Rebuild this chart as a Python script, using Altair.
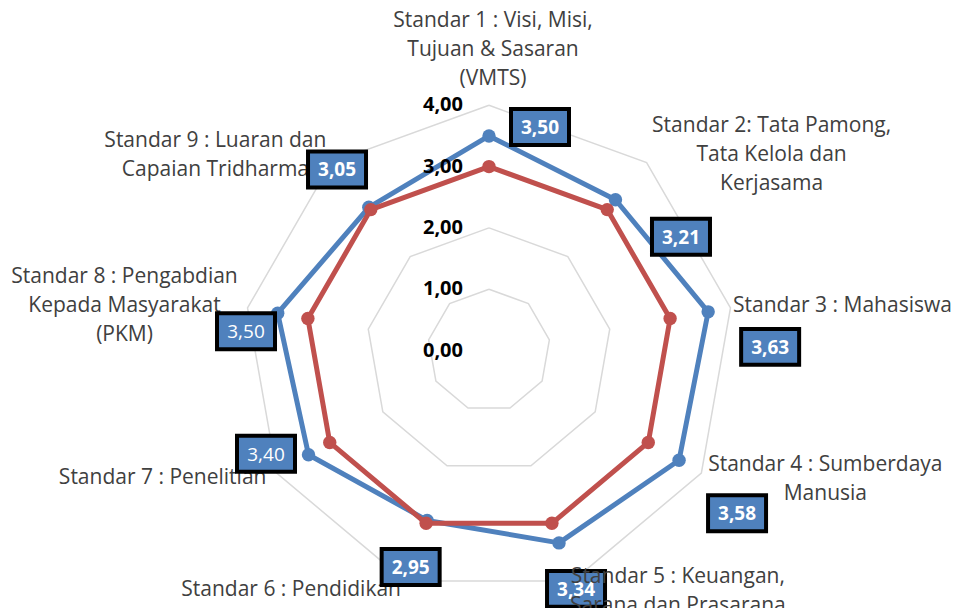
import altair as alt
import pandas as pd

# ---------------- data ----------------
CATEGORIES = [
    "Standar 1 : Visi, Misi,\nTujuan & Sasaran\n(VMTS)",
    "Standar 2: Tata Pamong,\nTata Kelola dan\nKerjasama",
    "Standar 3 : Mahasiswa",
    "Standar 4 : Sumberdaya\nManusia",
    "Standar 5 : Keuangan,\nSarana dan Prasarana",
    "Standar 6 : Pendidikan",
    "Standar 7 : Penelitian",
    "Standar 8 : Pengabdian\nKepada Masyarakat\n(PKM)",
    "Standar 9 : Luaran dan\nCapaian Tridharma",
]
SCORES = [3.50, 3.21, 3.63, 3.58, 3.34, 2.95, 3.40, 3.50, 3.05]
TARGET = [3.00, 3.00, 3.00, 3.00, 3.00, 3.00, 3.00, 3.00, 3.00]
SCORE_LABELS = ["3,50", "3,21", "3,63", "3,58", "3,34", "2,95", "3,40", "3,50", "3,05"]
TICK_VALUES = [0, 1, 2, 3, 4]
TICK_LABELS = ["0,00", "1,00", "2,00", "3,00", "4,00"]

# ---------------- layout (pixels) ----------------
W, H = 945, 600
S = 61.3            # pixels per unit of score
CX, CY = 481, 342.5  # centre of the radar in chart pixels
R_MAX = 4
LINE_H = 29
# category label (block centre) offsets from the outer vertex
CAT_DX = [4, 125, 112, 124, 105, -114, -114, -123, -116]
CAT_DY = [-55, -8, -2, 6, 11, 9, 5, -2, -7]
# value box offsets from the data point
BOX_DX = [51, 65.5, 62, 58, 17, -16.5, -42.5, -31.7, -31.8]
BOX_DY = [-9, 37, 35, 53, 46, 46.5, -1, 18, -37.8]
BOX_BOLD = [True, True, True, True, True, True, False, False, True]

BLUE = "#4F81BD"
RED = "#C0504D"
GRID = "#D9D9D9"
FONT = "Open Sans"

n = len(CATEGORIES)
xs = alt.Scale(domain=[-CX / S, (W - CX) / S], nice=False, zero=False)
ys = alt.Scale(domain=[-(H - CY) / S, CY / S], nice=False, zero=False)
ANG = "PI*(90-40*datum.k)/180"


def X(field="x"):
    return alt.X(f"{field}:Q", scale=xs, axis=None)


def Y(field="y"):
    return alt.Y(f"{field}:Q", scale=ys, axis=None)


# grid polygons
grid_rows = [{"level": lv, "k": k} for lv in TICK_VALUES[1:] for k in range(n + 1)]
grid = (
    alt.Chart(pd.DataFrame(grid_rows))
    .transform_calculate(x=f"datum.level*cos({ANG})", y=f"datum.level*sin({ANG})")
    .mark_line(color=GRID, strokeWidth=1.5)
    .encode(x=X(), y=Y(), detail="level:N", order="k:Q")
)


def series_layers(vals, color):
    line_df = pd.DataFrame({"k": list(range(n + 1)), "v": [vals[i % n] for i in range(n + 1)]})
    pt_df = pd.DataFrame({"k": list(range(n)), "v": vals})
    calc = dict(x=f"datum.v*cos({ANG})", y=f"datum.v*sin({ANG})")
    line = (
        alt.Chart(line_df)
        .transform_calculate(**calc)
        .mark_line(color=color, strokeWidth=5, strokeJoin="round")
        .encode(x=X(), y=Y(), order="k:Q")
    )
    pts = (
        alt.Chart(pt_df)
        .transform_calculate(**calc)
        .mark_point(shape="circle", filled=True, color=color, opacity=1, size=180)
        .encode(x=X(), y=Y())
    )
    return line, pts


b_line, b_pts = series_layers(SCORES, BLUE)
r_line, r_pts = series_layers(TARGET, RED)

# tick labels
tick_df = pd.DataFrame({"v": TICK_VALUES, "t": TICK_LABELS})
ticks = (
    alt.Chart(tick_df)
    .transform_calculate(x=f"{-26 / S}", y="datum.v")
    .mark_text(align="right", baseline="middle", font=FONT, fontSize=20,
               fontWeight="bold", color="black")
    .encode(x=X(), y=Y(), text="t:N")
)

# category labels (first line anchored so that the block is centred)
cat_df = pd.DataFrame({
    "k": list(range(n)), "label": CATEGORIES, "dx": CAT_DX, "dy": CAT_DY,
    "nl": [c.count("\n") + 1 for c in CATEGORIES],
})
cat_base = alt.Chart(cat_df).transform_calculate(
    x=f"{R_MAX}*cos({ANG}) + datum.dx/{S}",
    y=f"{R_MAX}*sin({ANG}) - (datum.dy - (datum.nl-1)*{LINE_H}/2)/{S}",
)
cat_text_kw = dict(align="center", baseline="middle", lineBreak="\n", font=FONT,
                   fontSize=21, lineHeight=LINE_H, color="#404040")
cats_under = cat_base.transform_filter("datum.k != 4").mark_text(**cat_text_kw).encode(
    x=X(), y=Y(), text="label:N")
cats_over = cat_base.transform_filter("datum.k == 4").mark_text(**cat_text_kw).encode(
    x=X(), y=Y(), text="label:N")

# value boxes
box_df = pd.DataFrame({"k": list(range(n)), "v": SCORES, "t": SCORE_LABELS,
                       "dx": BOX_DX, "dy": BOX_DY, "bold": BOX_BOLD})
box_base = alt.Chart(box_df).transform_calculate(
    x=f"datum.v*cos({ANG}) + datum.dx/{S}",
    y=f"datum.v*sin({ANG}) - datum.dy/{S}",
)
RECT_PATH = "M-1,-0.62L1,-0.62L1,0.62L-1,0.62Z"
boxes = box_base.mark_point(
    shape=RECT_PATH, size=58 * 58, filled=True, fill=BLUE, opacity=1,
    stroke="black", strokeWidth=4, strokeOpacity=1
).encode(x=X(), y=Y())
box_txt_bold = box_base.transform_filter("datum.bold").mark_text(
    align="center", baseline="middle", font=FONT, fontSize=19, fontWeight="bold",
    color="white", dy=1
).encode(x=X(), y=Y(), text="t:N")
box_txt_reg = box_base.transform_filter("!datum.bold").mark_text(
    align="center", baseline="middle", font=FONT, fontSize=19, fontWeight="normal",
    color="white", dy=1
).encode(x=X(), y=Y(), text="t:N")

chart = (
    alt.layer(grid, b_line, b_pts, r_line, r_pts, ticks, cats_under, boxes,
              box_txt_bold, box_txt_reg, cats_over)
    .properties(width=W, height=H, padding=0, autosize=alt.AutoSizeParams(type="none"))
    .configure_view(stroke=None)
)

chart.save("out.html", embed_options={"renderer": "svg", "actions": False})
